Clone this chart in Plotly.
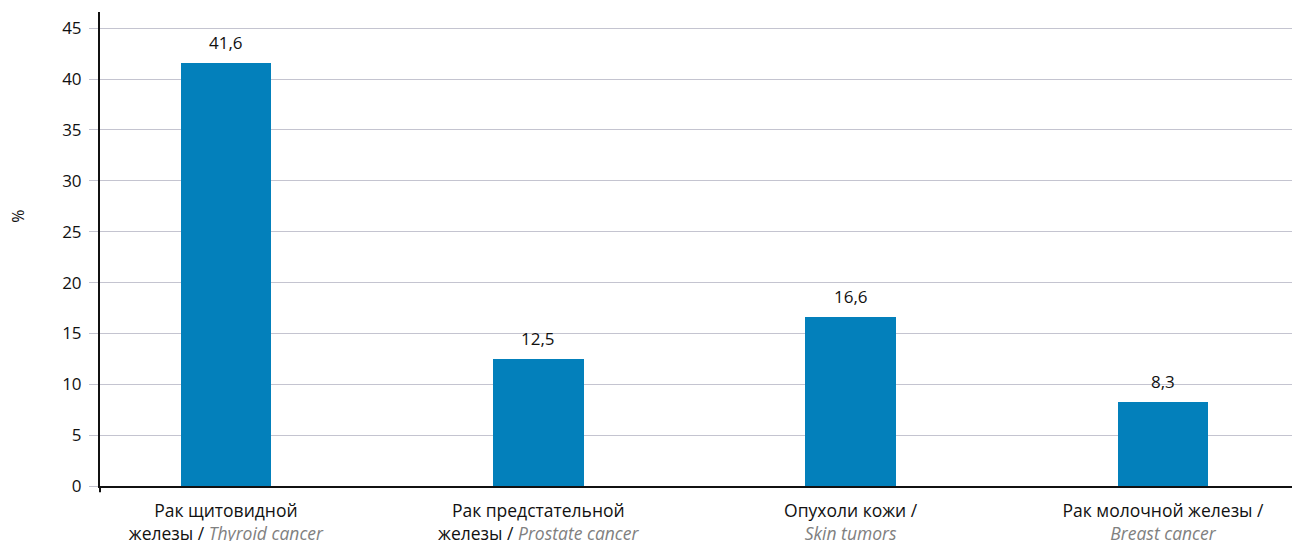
import plotly.graph_objects as go

# Cancer types (Russian / English) and their shares, %
categories_ru = ["Рак щитовидной<br>железы / ", "Рак предстательной<br>железы / ",
                 "Опухоли кожи /<br>", "Рак молочной железы /<br>"]
categories_en = ["Thyroid cancer", "Prostate cancer", "Skin tumors", "Breast cancer"]
values = [41.6, 12.5, 16.6, 8.3]
y_ticks = [0, 5, 10, 15, 20, 25, 30, 35, 40, 45]

tick_text = [f"{ru}<i><span style='color:#808080'>{en}</span></i>"
             for ru, en in zip(categories_ru, categories_en)]
x_pos = list(range(len(values)))

fig = go.Figure(go.Bar(
    x=x_pos,
    y=values,
    width=0.29,
    marker=dict(color="#0380bb", line=dict(width=0)),
))

# Value labels above each bar
for xi, v in zip(x_pos, values):
    fig.add_annotation(x=xi, y=v, text=f"{v:.1f}".replace(".", ","),
                       showarrow=False, yanchor="bottom", yshift=7,
                       font=dict(size=17, color="#111111"))

fig.update_layout(
    width=1292,
    height=541,
    margin=dict(l=100, r=0, t=12, b=55),
    paper_bgcolor="white",
    plot_bgcolor="white",
    font=dict(family="Open Sans, Noto Sans, sans-serif", size=17, color="#111111"),
    showlegend=False,
    bargap=0,
)

fig.update_xaxes(
    range=[-0.403, 3.413],
    tickvals=x_pos,
    ticktext=tick_text,
    showgrid=False,
    showline=True,
    linecolor="#111111",
    linewidth=2,
    ticks="",
    ticklabelstandoff=8,
    tickfont=dict(size=17.5, color="#111111"),
    zeroline=False,
    automargin=False,
)

fig.update_yaxes(
    range=[0, 46.6],
    tickvals=y_ticks,
    showgrid=True,
    gridcolor="#c4c4d0",
    gridwidth=1,
    showline=True,
    linecolor="#111111",
    linewidth=2,
    ticks="outside",
    ticklen=9,
    tickcolor="#c4c4d0",
    ticklabelstandoff=4,
    tickfont=dict(size=17, color="#111111"),
    zeroline=False,
    automargin=False,
)

# Axis title "%"
fig.add_annotation(xref="paper", yref="paper", x=-0.0688, y=0.57,
                   xanchor="center", yanchor="middle", text="%", textangle=-90,
                   showarrow=False, font=dict(size=16, color="#111111"))

# Short extension of the vertical axis below the baseline
fig.add_shape(type="line", xref="paper", yref="paper",
              x0=0, x1=0, y0=0, y1=-0.013,
              line=dict(color="#111111", width=2))

fig.write_html("out.html")
